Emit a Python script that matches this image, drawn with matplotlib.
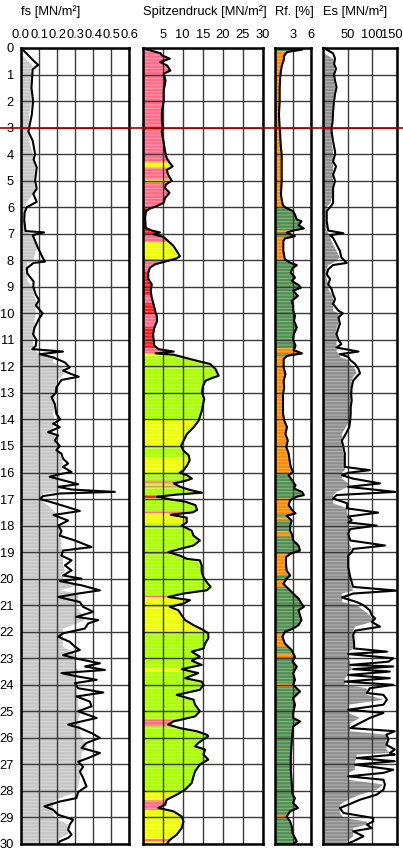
import numpy as np
import matplotlib
matplotlib.use("Agg")
import matplotlib.pyplot as plt
import matplotlib.transforms as mtransforms
from matplotlib.lines import Line2D

plt.rcParams["font.family"] = ["Liberation Sans", "DejaVu Sans"]
plt.rcParams["hatch.linewidth"] = 0.7

# ---------------------------------------------------------------- data
MAX_DEPTH = 30

fs_depth = [0.0, 0.2, 0.45, 0.64, 0.8, 1.0, 1.5, 2.0, 2.5, 3.0, 3.15, 3.5, 4.0, 4.2, 4.5,
            5.0, 5.3, 5.5, 5.8, 6.0, 6.2, 6.5, 6.9, 6.95, 7.05, 7.5, 7.9, 8.05, 8.1, 8.3,
            8.5, 8.8, 9.0, 9.3, 9.5, 9.7, 10.0, 10.2, 10.54, 10.79, 11.0, 11.22, 11.35,
            11.44, 11.54, 11.66, 11.85, 12.04, 12.16, 12.29, 12.39, 12.51, 12.79, 13.0,
            13.16, 13.41, 13.79, 14.0, 14.16, 14.29, 14.48, 14.6, 14.79, 15.0, 15.16,
            15.29, 15.48, 15.66, 15.79, 15.98, 16.06, 16.16, 16.29, 16.44, 16.54, 16.64,
            16.73, 16.79, 16.89, 17.0, 17.1, 17.29, 17.45, 17.6, 17.81, 18.0, 18.19,
            18.38, 18.56, 18.81, 18.94, 19.13, 19.31, 19.5, 19.69, 19.88, 20.0, 20.09,
            20.25, 20.44, 20.56, 20.69, 20.88, 21.06, 21.25, 21.44, 21.56, 21.69, 21.88,
            22.06, 22.19, 22.38, 22.56, 22.69, 22.88, 23.0, 23.19, 23.31, 23.44, 23.56,
            23.69, 23.81, 23.94, 24.13, 24.29, 24.44, 24.63, 24.81, 25.0, 25.25, 25.38,
            25.5, 25.63, 25.82, 26.0, 26.19, 26.38, 26.57, 26.76, 26.9, 27.09, 27.27,
            27.51, 27.83, 28.04, 28.27, 28.4, 28.58, 28.71, 28.9, 29.08, 29.27, 29.46,
            29.65, 29.77, 29.9, 30.0]
fs_value = [0.0, 0.03, 0.065, 0.095, 0.065, 0.063, 0.058, 0.067, 0.06, 0.045, 0.041, 0.065,
            0.078, 0.07, 0.087, 0.078, 0.087, 0.068, 0.087, 0.032, 0.02, 0.018, 0.025,
            0.128, 0.065, 0.092, 0.12, 0.133, 0.07, 0.032, 0.035, 0.07, 0.068, 0.082, 0.10,
            0.082, 0.12, 0.10, 0.075, 0.067, 0.085, 0.082, 0.063, 0.233, 0.104, 0.178,
            0.243, 0.27, 0.233, 0.28, 0.32, 0.224, 0.196, 0.193, 0.169, 0.187, 0.196,
            0.218, 0.178, 0.215, 0.15, 0.206, 0.187, 0.215, 0.196, 0.224, 0.233, 0.261,
            0.233, 0.28, 0.215, 0.159, 0.233, 0.317, 0.206, 0.28, 0.52, 0.215, 0.122,
            0.104, 0.159, 0.252, 0.326, 0.18, 0.261, 0.206, 0.224, 0.215, 0.298, 0.391,
            0.233, 0.224, 0.28, 0.243, 0.28, 0.233, 0.335, 0.215, 0.335, 0.437, 0.317,
            0.206, 0.326, 0.344, 0.40, 0.307, 0.428, 0.372, 0.354, 0.233, 0.206, 0.27,
            0.298, 0.326, 0.233, 0.298, 0.437, 0.354, 0.465, 0.224, 0.317, 0.419, 0.298,
            0.317, 0.456, 0.307, 0.381, 0.391, 0.317, 0.419, 0.335, 0.261, 0.326, 0.391,
            0.437, 0.363, 0.335, 0.437, 0.372, 0.317, 0.344, 0.326, 0.344, 0.363, 0.317,
            0.307, 0.215, 0.13, 0.178, 0.206, 0.289, 0.27, 0.261, 0.28, 0.261, 0.215, 0.206]

qc_depth = [0.0, 0.05, 0.2, 0.28, 0.4, 0.53, 0.66, 0.85, 0.97, 1.23, 1.6, 2.0, 2.4, 2.75,
            3.0, 3.15, 3.52, 3.9, 4.15, 4.34, 4.46, 4.6, 4.78, 5.0, 5.15, 5.28, 5.46, 5.65,
            5.84, 5.96, 6.05, 6.15, 6.4, 6.78, 6.88, 6.95, 7.02, 7.12, 7.28, 7.46, 7.65,
            7.84, 7.93, 8.05, 8.15, 8.28, 8.46, 8.71, 8.9, 9.15, 9.4, 9.65, 9.9, 10.09,
            10.29, 10.54, 10.79, 11.0, 11.22, 11.35, 11.44, 11.51, 11.56, 11.66, 11.79,
            11.91, 12.1, 12.23, 12.35, 12.44, 12.54, 12.73, 12.98, 13.23, 13.41, 13.66,
            13.85, 14.04, 14.29, 14.54, 14.79, 14.98, 15.16, 15.35, 15.54, 15.73, 15.91,
            16.01, 16.1, 16.23, 16.33, 16.41, 16.54, 16.66, 16.76, 16.83, 16.91, 17.01,
            17.1, 17.23, 17.41, 17.5, 17.59, 17.7, 17.88, 18.0, 18.19, 18.38, 18.56, 18.75,
            18.88, 19.0, 19.13, 19.25, 19.31, 19.5, 19.75, 19.94, 20.13, 20.31, 20.44,
            20.56, 20.69, 20.81, 20.94, 21.06, 21.19, 21.38, 21.56, 21.75, 21.94, 22.06,
            22.25, 22.44, 22.63, 22.75, 22.94, 23.09, 23.25, 23.41, 23.56, 23.75, 23.88,
            24.0, 24.19, 24.38, 24.56, 24.75, 25.0, 25.19, 25.38, 25.5, 25.63, 25.75,
            25.88, 25.94, 26.06, 26.19, 26.32, 26.44, 26.63, 26.82, 27.0, 27.26, 27.45,
            27.7, 27.95, 28.14, 28.33, 28.52, 28.64, 28.77, 28.96, 29.15, 29.4, 29.65,
            29.84, 30.0]
qc_value = [0.3, 1.0, 4.5, 4.8, 6.75, 4.4, 6.1, 6.9, 5.25, 5.7, 5.25, 5.25, 4.8, 4.8, 5.0,
            4.75, 5.2, 5.6, 6.0, 6.8, 7.5, 6.0, 6.4, 7.25, 5.75, 5.6, 6.7, 5.6, 5.2, 3.5,
            1.8, 0.8, 0.6, 0.75, 2.25, 4.3, 2.7, 5.2, 6.4, 7.7, 8.5, 9.3, 8.5, 5.6, 3.1,
            1.8, 1.4, 1.4, 2.25, 2.0, 2.25, 2.7, 3.1, 3.5, 3.6, 2.9, 2.6, 2.75, 2.9, 4.0,
            7.75, 3.2, 7.75, 10.25, 13.6, 16.9, 18.2, 18.6, 19.0, 17.3, 15.7, 15.1, 14.8,
            15.4, 15.1, 14.8, 14.4, 14.0, 12.75, 11.1, 10.25, 9.6, 10.1, 11.5, 11.75,
            11.1, 10.25, 9.25, 11.1, 12.3, 10.25, 7.75, 9.4, 11.9, 14.8, 8.6, 3.6, 6.9,
            10.7, 13.2, 13.6, 12.5, 7.0, 11.0, 11.0, 9.75, 12.25, 12.7, 14.3, 12.7, 9.3,
            6.4, 9.3, 11.0, 14.3, 14.75, 14.75, 15.2, 16.0, 17.0, 16.0, 10.2, 6.4, 11.8,
            10.2, 6.8, 8.9, 9.75, 10.6, 12.7, 15.2, 16.4, 16.4, 15.6, 15.2, 12.25, 14.3,
            12.25, 14.75, 9.75, 13.9, 10.6, 14.75, 15.2, 14.3, 8.5, 12.7, 13.1, 14.3,
            13.1, 7.7, 6.4, 9.3, 13.5, 16.0, 16.4, 15.2, 13.9, 13.1, 15.6, 15.2, 16.4,
            14.3, 13.1, 12.7, 12.25, 10.6, 8.5, 6.0, 5.6, 3.9, 7.7, 9.75, 10.2, 9.75, 8.5,
            6.8, 6.0]

# soil behaviour zones along the cone resistance log (top depth, type)
qc_zone_top = [0.0, 4.3, 4.5, 4.95, 5.05, 6.0, 7.0, 7.3, 7.95, 8.4, 9.3, 9.6, 10.0, 10.5,
               11.3, 11.5, 11.6, 14.0, 15.0, 15.4, 16.0, 16.3, 16.38, 16.5, 16.55, 16.85,
               16.95, 17.45, 17.52, 17.9, 19.0, 19.06, 20.63, 20.68, 21.0, 21.04, 22.0,
               23.35, 23.5, 25.3, 25.55, 28.0, 28.35, 28.7, 29.8, 29.9]
qc_zone_type = ["silt", "sand", "silt", "sand", "silt", "clay", "silt", "sand", "silt",
                "clay", "silt", "clay", "silt", "clay", "silt", "sand", "gravel", "sand",
                "gravel", "sand", "gravel", "silt", "gravel", "silt", "gravel", "clay",
                "gravel", "silt", "sand", "gravel", "silt", "gravel", "silt", "sand",
                "silt", "sand", "gravel", "sand", "gravel", "silt", "gravel", "sand",
                "silt", "sand", "silt", "sand"]
qc_colors = {"silt": "#ff6a86", "clay": "#ff1a1a", "sand": "#eeff00", "gravel": "#aaff00"}

rf_depth = [0.0, 0.06, 0.15, 0.28, 0.47, 0.66, 0.85, 1.04, 1.5, 2.0, 2.5, 3.0, 3.15, 3.65,
            4.0, 4.4, 5.0, 5.53, 5.9, 6.0, 6.15, 6.28, 6.46, 6.53, 6.68, 6.8, 6.88, 6.96,
            7.09, 7.18, 7.28, 7.65, 7.96, 8.09, 8.18, 8.3, 8.46, 8.65, 8.78, 8.93, 9.03,
            9.15, 9.34, 9.53, 9.71, 9.9, 10.09, 10.28, 10.53, 10.79, 11.0, 11.22, 11.39,
            11.51, 11.6, 11.72, 12.04, 12.29, 12.54, 12.79, 13.04, 13.41, 13.79, 14.04,
            14.29, 14.54, 14.79, 15.04, 15.29, 15.54, 15.79, 15.98, 16.1, 16.29, 16.48,
            16.6, 16.73, 16.85, 16.91, 17.04, 17.23, 17.41, 17.54, 17.63, 17.81, 18.0,
            18.19, 18.38, 18.56, 18.75, 18.94, 19.06, 19.19, 19.44, 19.69, 19.88, 20.0,
            20.19, 20.38, 20.56, 20.75, 20.94, 21.06, 21.19, 21.38, 21.56, 21.75, 21.88,
            22.0, 22.19, 22.44, 22.69, 22.94, 23.13, 23.31, 23.56, 23.81, 24.0, 24.25,
            24.5, 24.75, 25.06, 25.25, 25.38, 25.57, 25.82, 26.19, 26.7, 27.2, 27.7,
            28.14, 28.27, 28.45, 28.64, 28.77, 28.96, 29.15, 29.33, 29.59, 29.77, 29.9,
            30.0]
rf_value = [0.5, 4.5, 2.0, 1.5, 1.4, 1.1, 0.95, 0.85, 0.73, 0.73, 0.62, 0.73, 0.8, 0.9,
            1.07, 1.07, 1.07, 0.95, 1.23, 1.6, 3.0, 3.3, 3.6, 4.4, 3.9, 4.8, 3.0, 1.9, 3.3,
            1.6, 1.35, 1.35, 1.6, 2.5, 3.6, 2.9, 2.6, 3.3, 2.75, 3.9, 4.3, 3.0, 3.8, 2.75,
            3.0, 3.0, 3.3, 3.15, 3.6, 3.1, 3.0, 3.4, 3.1, 4.5, 2.0, 1.4, 1.4, 1.7, 1.4, 1.5,
            1.3, 1.3, 1.3, 1.5, 1.96, 1.7, 2.1, 1.85, 2.25, 2.4, 2.6, 3.0, 2.25, 2.8, 3.4,
            3.1, 4.5, 4.8, 3.6, 2.5, 2.25, 2.8, 3.4, 1.9, 2.75, 2.5, 2.5, 2.9, 3.0, 3.9,
            4.15, 2.5, 1.8, 1.8, 1.9, 2.5, 1.9, 1.35, 2.2, 3.0, 3.9, 4.4, 4.8, 3.9, 4.15,
            4.4, 3.9, 3.0, 1.6, 1.2, 1.6, 2.75, 3.3, 2.9, 3.6, 3.0, 3.3, 3.0, 4.15, 3.0,
            3.3, 3.0, 3.0, 4.15, 3.0, 2.9, 2.75, 2.6, 2.6, 2.75, 2.9, 3.3, 3.0, 3.8, 2.5,
            1.9, 2.5, 2.75, 2.9, 3.3, 3.6, 3.0]

# friction ratio zones (top depth, type)
rf_zone_top = [0.0, 0.12, 6.0, 6.85, 6.92, 7.1, 8.0, 11.3, 11.5, 11.6, 16.0, 16.95, 17.55,
               17.65, 17.8, 18.2, 18.4, 19.06, 19.85, 20.0, 20.3, 21.96, 22.56, 22.8,
               22.94, 23.94, 24.06, 28.92, 28.98]
rf_zone_type = ["cohesive", "granular", "cohesive", "granular", "cohesive", "granular",
                "cohesive", "granular", "cohesive", "granular", "cohesive", "granular",
                "cohesive", "granular", "cohesive", "granular", "cohesive", "granular",
                "cohesive", "granular", "cohesive", "granular", "cohesive", "granular",
                "cohesive", "granular", "cohesive", "granular", "cohesive"]
rf_colors = {"granular": "#ff8a00", "cohesive": "#4f8f4f"}

es_depth = [0.0, 0.2, 0.4, 0.6, 0.78, 1.0, 1.23, 1.48, 1.73, 2.0, 2.4, 2.78, 3.0, 3.15,
            3.52, 3.9, 4.0, 4.28, 4.46, 4.78, 5.0, 5.28, 5.53, 5.84, 6.0, 6.15, 6.53, 6.88,
            6.98, 7.05, 7.15, 7.4, 7.65, 7.9, 8.1, 8.18, 8.34, 8.53, 8.71, 8.9, 9.09, 9.28,
            9.46, 9.65, 9.9, 10.0, 10.15, 10.4, 10.54, 10.79, 11.0, 11.16, 11.29, 11.44,
            11.54, 11.64, 11.76, 11.91, 12.1, 12.26, 12.39, 12.54, 12.79, 13.04, 13.29,
            13.54, 13.79, 14.04, 14.29, 14.54, 14.79, 15.04, 15.29, 15.54, 15.79, 15.91,
            16.01, 16.1, 16.23, 16.41, 16.54, 16.73, 16.85, 16.98, 17.16, 17.35, 17.51,
            17.66, 17.79, 17.88, 18.0, 18.13, 18.31, 18.56, 18.75, 18.88, 19.0, 19.13,
            19.31, 19.56, 19.75, 19.94, 20.13, 20.31, 20.45, 20.56, 20.71, 20.88, 21.0,
            21.19, 21.38, 21.5, 21.63, 21.81, 21.96, 22.13, 22.44, 22.63, 22.75, 22.84,
            23.0, 23.13, 23.25, 23.31, 23.41, 23.5, 23.63, 23.75, 23.88, 24.0, 24.13,
            24.31, 24.38, 24.56, 24.75, 24.94, 25.06, 25.25, 25.44, 25.63, 25.75, 25.88,
            26.06, 26.26, 26.44, 26.57, 26.63, 26.76, 26.88, 27.01, 27.2, 27.32, 27.45,
            27.58, 27.76, 27.95, 28.14, 28.33, 28.52, 28.64, 28.83, 29.02, 29.15, 29.27,
            29.4, 29.52, 29.71, 29.9, 30.0]
es_value = [1, 20, 24, 22, 26, 22, 24, 27, 24, 22, 20, 19, 17, 17, 20, 24, 24, 20, 26, 20,
            24, 20, 20, 20, 14, 7, 7, 10, 41, 14, 20, 27, 34, 37, 48, 20, 10, 7, 14, 10, 17,
            20, 24, 20, 31, 40, 31, 34, 31, 27, 31, 37, 27, 72, 34, 51, 55, 65, 72, 75, 68,
            61, 58, 57, 58, 56, 56, 55, 53, 46, 38, 41, 44, 44, 44, 95, 51, 38, 61, 116, 51,
            147, 27, 20, 49, 48, 112, 51, 58, 51, 109, 55, 51, 55, 126, 61, 58, 51, 51, 51,
            53, 55, 58, 61, 150, 61, 38, 68, 82, 95, 99, 106, 99, 116, 65, 61, 63, 63, 130,
            51, 143, 133, 55, 143, 61, 136, 51, 136, 44, 143, 95, 89, 123, 130, 123, 51,
            123, 95, 75, 55, 146, 129, 133, 129, 146, 136, 146, 68, 146, 65, 143, 123, 51,
            123, 126, 123, 109, 75, 51, 34, 41, 102, 102, 89, 99, 61, 82, 61, 48]

fs_ticks = [0.0, 0.1, 0.2, 0.3, 0.4, 0.5, 0.6]
qc_ticks = [0, 5, 10, 15, 20, 25, 30]
rf_ticks = [0, 3, 6]
es_ticks = [0, 50, 100, 150]
depth_ticks = list(range(0, MAX_DEPTH + 1))

titles = ["fs [MN/m²]", "Spitzendruck [MN/m²]", "Rf. [%]", "Es [MN/m²]"]
marker_depth = 3.0

# ---------------------------------------------------------------- layout
W, H = 403, 850
TOP, BOTTOM = 48, 844
FONT = 9.3
fig = plt.figure(figsize=(W / 100, H / 100), dpi=100)


def track(x0, x1):
    return fig.add_axes([x0 / W, (H - BOTTOM) / H, (x1 - x0) / W, (BOTTOM - TOP) / H])


def style(ax, ticks, labels, show_depth=False):
    ax.set_ylim(MAX_DEPTH, 0)
    ax.set_xlim(ticks[0], ticks[-1])
    ax.set_xticks(ticks)
    ax.set_xticklabels(labels)
    ax.xaxis.tick_top()
    ax.tick_params(axis="x", length=0, pad=5, labelsize=FONT)
    ax.set_yticks(depth_ticks)
    if show_depth:
        ax.set_yticklabels([str(d) for d in depth_ticks])
        ax.tick_params(axis="y", length=0, pad=5, labelsize=FONT)
    else:
        ax.tick_params(axis="y", length=0, labelleft=False)
    ax.grid(True, color="#3a3a3a", lw=1.0)
    ax.set_axisbelow(False)
    for s in ax.spines.values():
        s.set_linewidth(1.8)
        s.set_zorder(5)


def lower_envelope(values, half, q=0):
    v = np.asarray(values, float)
    padded = np.pad(v, half, mode="edge")
    win = np.lib.stride_tricks.sliding_window_view(padded, 2 * half + 1)
    return np.percentile(win, q, axis=1)


def texture(ax, depth, extent):
    ax.fill_betweenx(depth, 0, extent, facecolor="none", hatch="-----",
                     edgecolor=(1, 1, 1, 0.35), linewidth=0, zorder=1.2)


def zoned_fill(ax, depth, values, tops, kinds, palette):
    depth = np.asarray(depth, float)
    values = np.asarray(values, float)
    bottoms = list(tops[1:]) + [MAX_DEPTH]
    for top, bot, kind in zip(tops, bottoms, kinds):
        inside = (depth > top) & (depth < bot)
        d = np.concatenate([[top], depth[inside], [bot]])
        v = np.concatenate([[np.interp(top, depth, values)], values[inside],
                            [np.interp(bot, depth, values)]])
        ax.fill_betweenx(d, 0, v, facecolor=palette[kind], edgecolor=palette[kind],
                         linewidth=0.3, zorder=1)
    texture(ax, depth, values)


LW = 1.5

# sleeve friction
ax1 = track(21, 129.3)
fs_fill = lower_envelope(fs_value, 2, q=25)
ax1.fill_betweenx(fs_depth, 0, fs_fill, facecolor="#c6c6c6", linewidth=0, zorder=1)
texture(ax1, fs_depth, fs_fill)
ax1.plot(fs_value, fs_depth, color="black", lw=LW, zorder=3)
style(ax1, fs_ticks, [f"{t:.1f}" for t in fs_ticks], show_depth=True)

# cone resistance
ax2 = track(142.7, 262.7)
zoned_fill(ax2, qc_depth, qc_value, qc_zone_top, qc_zone_type, qc_colors)
ax2.plot(qc_value, qc_depth, color="black", lw=LW, zorder=3)
style(ax2, qc_ticks, [""] + [str(t) for t in qc_ticks[1:]])

# friction ratio
ax3 = track(275.3, 311.0)
zoned_fill(ax3, rf_depth, rf_value, rf_zone_top, rf_zone_type, rf_colors)
ax3.plot(rf_value, rf_depth, color="black", lw=LW, zorder=3)
style(ax3, rf_ticks, [""] + [str(t) for t in rf_ticks[1:]])

# constrained modulus
ax4 = track(323.3, 396.7)
es_fill = lower_envelope(es_value, 1)
ax4.fill_betweenx(es_depth, 0, es_fill, facecolor="#8e8e8e", linewidth=0, zorder=1)
texture(ax4, es_depth, es_fill)
ax4.plot(es_value, es_depth, color="black", lw=LW, zorder=3, clip_on=False)
style(ax4, es_ticks, [""] + [str(t) for t in es_ticks[1:]])
# keep the last scale label inside the figure edge
ax4.get_xticklabels()[-1].set_horizontalalignment("right")
ax4.get_xticklabels()[-1].set_x(es_ticks[-1])
last = ax4.xaxis.get_major_ticks()[-1]
last.label2.set_horizontalalignment("right")
last.label2.set_transform(last.label2.get_transform()
                          + mtransforms.ScaledTranslation(6 / 100, 0, fig.dpi_scale_trans))

for ax, title, x0 in zip([ax1, ax2, ax3, ax4], titles, [21, 142.7, 275.3, 323.3]):
    fig.text(x0 / W, 1 - 12 / H, title, ha="left", va="center", fontsize=FONT)

# marker line across all tracks
trans = mtransforms.blended_transform_factory(fig.transFigure, ax1.transData)
fig.add_artist(Line2D([0, 1], [marker_depth, marker_depth], transform=trans,
                      color="#a00000", lw=1.2, zorder=10))

fig.savefig("out.png", dpi=100)
